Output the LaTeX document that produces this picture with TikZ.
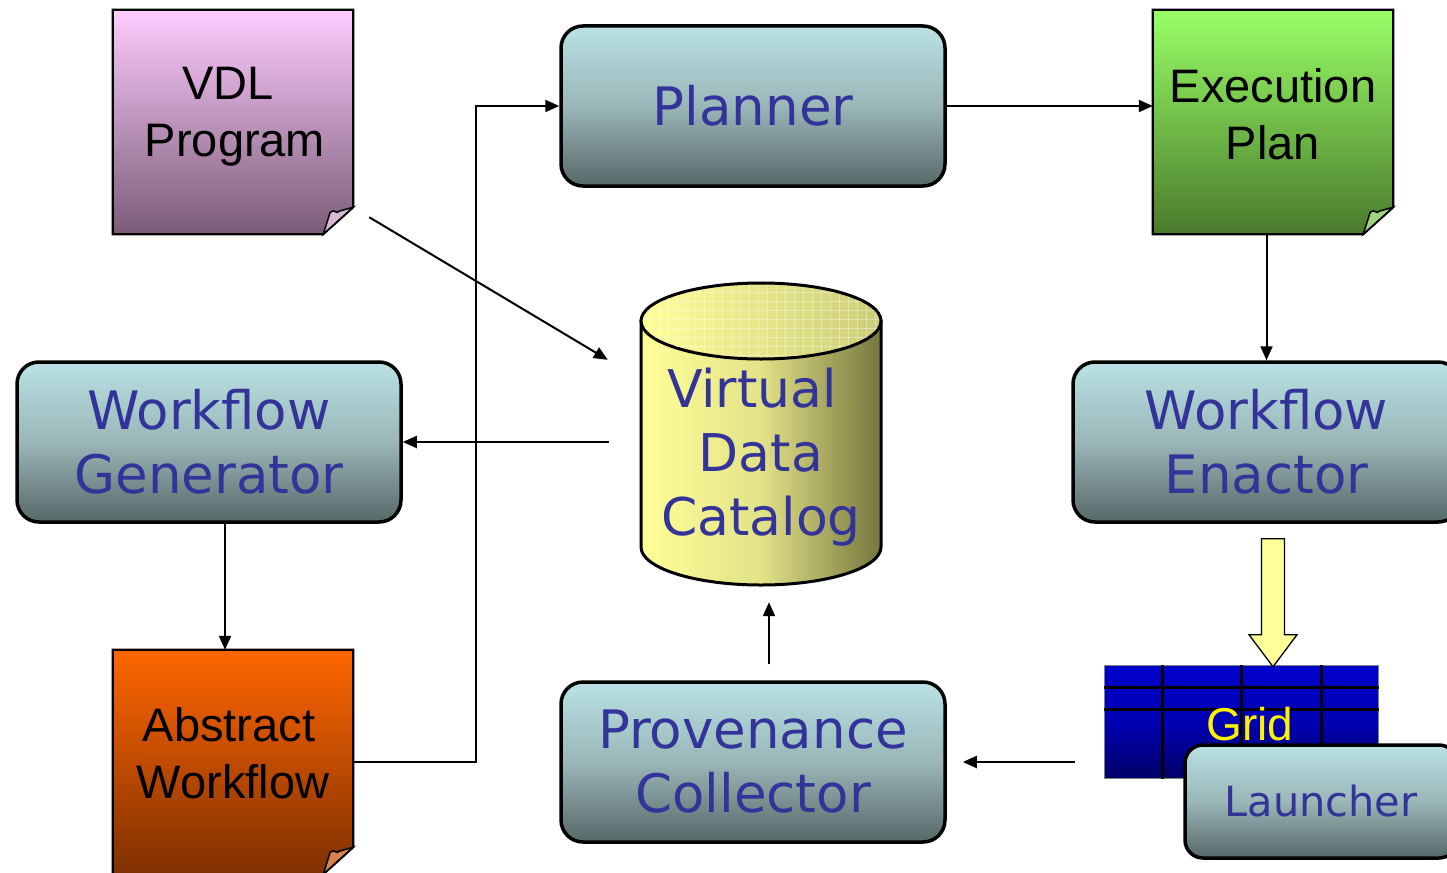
\documentclass[tikz,border=0pt]{standalone}
\usepackage{fontspec}
\setmainfont{Liberation Sans}
\newfontfamily\vfont{DejaVu Sans}
\usetikzlibrary{arrows.meta,calc}

\definecolor{boxtop}{HTML}{B9E1E4}
\definecolor{boxmid}{HTML}{9AB6B8}
\definecolor{boxbot}{HTML}{566868}
\definecolor{txtblue}{HTML}{333399}
\definecolor{vdltop}{HTML}{FFCCFF}
\definecolor{vdlbot}{HTML}{7A5C78}
\definecolor{exectop}{HTML}{99FF66}
\definecolor{execbot}{HTML}{4A7A2C}
\definecolor{abstop}{HTML}{FF6600}
\definecolor{absbot}{HTML}{7F3000}
\definecolor{cylleft}{HTML}{FFFF99}
\definecolor{cylmid}{HTML}{E2E288}
\definecolor{cylright}{HTML}{76763E}
\definecolor{gridtop}{HTML}{0000CC}
\definecolor{gridbot}{HTML}{000068}
\definecolor{fatyellow}{HTML}{FFFF99}

\pgfdeclarelayer{bg}
\pgfsetlayers{bg,main}

% paper sheet with a curled lower-right corner, drawn behind node #1
\newcommand\docpaper[3]{%
  \begin{pgfonlayer}{bg}
    \path[draw=black, line width=2.2pt, top color=#2, bottom color=#3]
      (#1.north west) -- (#1.north east) -- ($(#1.south east)+(0,-27)$)
      -- ($(#1.south east)+(-30,0)$) -- (#1.south west) -- cycle;
    \path[draw=black, line width=1.5pt, fill=#2!55!#3!70!white]
      ($(#1.south east)+(-30,0)$) -- ($(#1.south east)+(-23,-22)$)
      .. controls ($(#1.south east)+(-18,-26)$) and ($(#1.south east)+(-17,-19)$) .. ($(#1.south east)+(-14,-23)$)
      -- ($(#1.south east)+(0,-27)$) -- cycle;
  \end{pgfonlayer}}

\begin{document}
\begin{tikzpicture}[x=1pt,y=-1pt,
  box/.style={rounded corners=22pt, draw=black, line width=3.5pt,
    top color=boxtop, bottom color=boxbot, middle color=boxmid,
    minimum width=384pt, minimum height=160pt, inner sep=0pt,
    font=\vfont\fontsize{53}{64}\selectfont, text=txtblue, align=center},
  paper/.style={minimum width=240pt, minimum height=224pt, inner sep=0pt},
  papertext/.style={font=\fontsize{47}{57}\selectfont, text=black, align=center, inner sep=0pt},
  conn/.style={draw=black, line width=2pt, -{Triangle[length=14pt,width=12pt]}},
]
\useasboundingbox (0,0) rectangle (1447,872);

% ---- paper sheets ----
\node[paper] (vdl) at (233,122) {};
\docpaper{vdl}{vdltop}{vdlbot}
\node[papertext] (vdltext) at (228,117) {VDL\\\hspace*{14pt}Program};

\node[paper] (exec) at (1273,122) {};
\docpaper{exec}{exectop}{execbot}
\node[papertext] (exectext) at (1273,114) {Execution\\Plan};

\node[paper] (abs) at (233,762) {};
\docpaper{abs}{abstop}{absbot}
\node[papertext] (abstext) at (229,753) {Abstract\\\hspace*{8pt}Workflow};

% ---- rounded process boxes ----
\node[box] (plan) at (753,106) {Planner};
\node[box] (wgen) at (209,442) {Workflow\\Generator};
\node[box, minimum width=387pt] (wenact) at (1266.5,442) {Workflow\\Enactor};
\node[box] (prov) at (753,762) {Provenance\\Collector};

% ---- virtual data catalog cylinder ----
\node[minimum width=240pt, minimum height=304pt, inner sep=0pt] (vdc) at (761,433) {};
\path[draw=black, line width=3pt, left color=cylleft, right color=cylright, middle color=cylmid]
  (641,321) -- (641,547) arc[start angle=180, end angle=0, x radius=120, y radius=38]
  -- (881,321) -- cycle;
\path[draw=black, line width=3pt, left color=cylleft, right color=cylmid!80!cylright]
  (761,321) ellipse[x radius=120, y radius=38];
\begin{scope}
  \clip (761,321) ellipse[x radius=118.5, y radius=36.5];
  \foreach \gx in {641,650,...,881} \draw[white, opacity=0.35, line width=0.8pt] (\gx,280) -- (\gx,360);
  \foreach \gy in {283,292,...,360} \draw[white, opacity=0.35, line width=0.8pt] (640,\gy) -- (882,\gy);
\end{scope}
\node[font=\vfont\fontsize{52}{64}\selectfont, text=txtblue, align=center, inner sep=0pt]
  (vdctext) at (761,457) {Virtual\hspace*{18pt}\\Data\\Catalog};

% ---- grid launcher ----
\node[minimum width=274pt, minimum height=113pt, inner sep=0pt, draw=gray, line width=1pt,
  top color=gridtop, bottom color=gridbot, middle color=gridtop!75!gridbot] (grid) at (1241,721.5) {};
\foreach \gx in {-79,0,80}
  \draw[black, line width=3pt] ($(grid.north)+(\gx,0)$) -- ($(grid.south)+(\gx,0)$);
\foreach \gy in {23,45}
  \draw[black, line width=3pt] ($(grid.north west)+(0,\gy)$) -- ($(grid.north east)+(0,\gy)$);
\node[font=\fontsize{46}{56}\selectfont, text=yellow, inner sep=0pt] (gridtext) at (1250,724) {Grid};
\node[box, minimum width=272pt, minimum height=113pt, rounded corners=18pt,
  font=\vfont\fontsize{41.5}{48}\selectfont] (launch) at (1321,801.5) {Launcher};

% ---- connectors ----
\coordinate (wgdown) at ($(wgen.south)+(16,0)$);
\draw[conn] ($(vdl.south east)+(16,-17)$) -- ($(vdc.north west)+(-33,79)$);
\draw[conn, shorten <=32pt] (wgen.east -| vdc.west) -- (wgen.east);
\draw[conn] (wgdown) -- (wgdown |- abs.north);
\draw[conn] (abs.east) -- ++(123,0) |- (plan.west);
\draw[conn] (plan.east) -- (plan.east -| exec.west);
\draw[conn] (exec.south -| wenact.north) -- (wenact.north);
\draw[conn, shorten >=16pt] ($(prov.east)+(128,0)$) -- (prov.east);
\draw[conn, shorten <=16pt, shorten >=17pt] ($(prov.north)+(16,0)$) -- ($(vdc.south)+(8,0)$);

% broad hollow arrow from the enactor down to the grid
\coordinate (fat) at ($(wenact.south)+(6.5,15)$);
\draw[draw=black, line width=1.3pt, fill=fatyellow, line join=miter]
  ([shift={(-11.5,0)}]fat) -- ++(23,0) -- ++(0,96) -- ++(12.5,0)
  -- ([shift={(0,128)}]fat) -- ++(-24,-32) -- ++(12.5,0) -- cycle;
\end{tikzpicture}
\end{document}
